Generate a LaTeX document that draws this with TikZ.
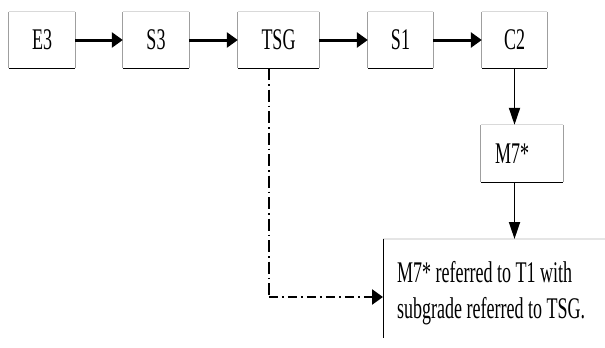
\documentclass[tikz,border=0pt]{standalone}
\usepackage{fontspec}
\setmainfont{Liberation Serif}
\newfontfamily\cond[FakeStretch=0.6]{Liberation Serif}
\usetikzlibrary{arrows.meta,calc}
\begin{document}
\begin{tikzpicture}[x=1pt,y=-1pt,
  boxn/.style={draw=none,minimum height=56pt,inner sep=0pt,font=\cond\fontsize{30}{36}\selectfont},
  harrow/.style={line width=3pt,-{Triangle[length=11pt,width=15pt]}},
  varrow/.style={line width=1.8pt,-{Triangle[length=17pt,width=11pt]}},
  txt/.style={font=\cond\fontsize{30}{36}\selectfont,inner sep=0pt}]
\useasboundingbox (0,0) rectangle (605,348);
\node[boxn,minimum width=66pt] (e3) at (42,40) {E3};
\node[boxn,minimum width=66pt] (s3) at (156,40) {S3};
\node[boxn,minimum width=81pt] (tsg) at (278.5,40) {TSG};
\node[boxn,minimum width=65pt] (s1) at (400.5,40) {S1};
\node[boxn,minimum width=65pt] (c2) at (514.5,40) {C2};
\node[boxn,minimum width=82pt,minimum height=57pt,text width=54pt,align=left,inner xsep=14pt] (m7) at (522,153.5) {M7*};
\node[draw=none,minimum width=240pt,minimum height=99pt,anchor=north west,inner sep=0pt] (big) at (383,239) {};
\node[txt,anchor=base west,align=left] (bigtext) at (397,282) {M7* referred to T1 with};
\node[txt,anchor=base west,align=left] (bigtext2) at (397,318) {subgrade referred to TSG.};
\foreach \n in {e3,s3,tsg,s1,c2,m7}{
  \draw[gray!30,line width=1.2pt] (\n.north west) -- (\n.north east);
  \draw[gray!75,line width=0.9pt] (\n.north west) -- (\n.south west);
  \draw[gray!75,line width=0.9pt] (\n.north east) -- (\n.south east);
  \draw[black,line width=1.4pt] (\n.south west) -- (\n.south east);
}
\draw[gray!20,line width=1.2pt] (big.north west) -- (big.north east);
\draw[black,line width=1pt] (big.north west) -- (big.south west);
\draw[harrow] (e3) -- (s3);
\draw[harrow] (s3) -- (tsg);
\draw[harrow] (tsg) -- (s1);
\draw[harrow] (s1) -- (c2);
\draw[varrow] (c2.south) -- (c2.south |- m7.north);
\draw[varrow] (c2.south |- m7.south) -- (c2.south |- big.north);
\coordinate (dd) at ($(tsg.south west)+(31,0)$);
\draw[line width=1.5pt,dash pattern=on 12pt off 4pt on 1.5pt off 4pt] (dd) -- (dd |- 0,297);
\draw[line width=2.5pt,dash pattern=on 9pt off 4pt on 2pt off 4pt,-{Triangle[length=11pt,width=15pt]}] (dd |- 0,297) -- ($(big.north west)+(0,58)$);
\end{tikzpicture}
\end{document}
